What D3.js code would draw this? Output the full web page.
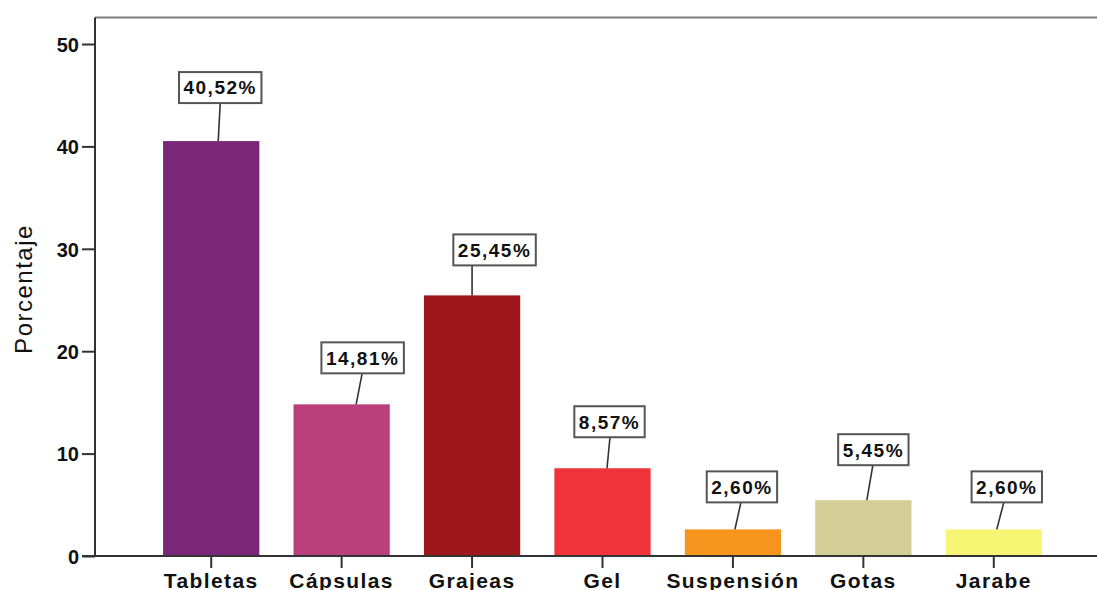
<!DOCTYPE html>
<html>
<head>
<meta charset="utf-8">
<script src="https://cdn.jsdelivr.net/npm/d3@7"></script>
<style>
  html, body { margin: 0; padding: 0; background: #fff; }
  svg { display: block; }
</style>
</head>
<body>
<svg id="chart" width="1097" height="590"></svg>
<script>
// Forma farmacéutica: porcentaje por categoría
const categories = ["Tabletas", "Cápsulas", "Grajeas", "Gel", "Suspensión", "Gotas", "Jarabe"];
const percentages = [40.52, 14.81, 25.45, 8.57, 2.60, 5.45, 2.60];
const valueLabels = ["40,52%", "14,81%", "25,45%", "8,57%", "2,60%", "5,45%", "2,60%"];
const barColors = ["#7b2779", "#ba3f7c", "#9e171b", "#ee343a", "#f7941e", "#d3cd96", "#f8f575"];
const yTicks = [0, 10, 20, 30, 40, 50];

// Callout placement: [box centre dx, leader top dx, leader bottom dx, gap above bar]
const calloutLayout = [
  [9, 9, 7, 38],
  [21, 20.5, 14.5, 31],
  [22.5, 0, 0, 30],
  [7, 7.5, 4.5, 31],
  [9, 8, 2, 27],
  [10, 9.5, 3.5, 35],
  [13, 10, 3, 27]
];

const svg = d3.select("#chart");
const plotLeft = 95, plotTop = 17.5, plotRight = 1098, plotBottom = 556;
const font = "'Liberation Sans', Arial, sans-serif";

const x = d3.scaleBand()
  .domain(categories)
  .range([146, 1059])
  .paddingInner(0.262)
  .paddingOuter(0.131);

const y = d3.scaleLinear()
  .domain([0, 50])
  .range([plotBottom, 44]);

// top edge of the plot frame
svg.append("path")
  .attr("d", `M${plotLeft},${plotTop}H${plotRight}`)
  .attr("stroke", "#7f7f7f")
  .attr("stroke-width", 2)
  .attr("fill", "none");

// bars
svg.append("g")
  .selectAll("rect")
  .data(categories)
  .join("rect")
  .attr("x", d => x(d))
  .attr("y", (d, i) => y(percentages[i]))
  .attr("width", x.bandwidth())
  .attr("height", (d, i) => y(0) - y(percentages[i]))
  .attr("fill", (d, i) => barColors[i]);

// y axis
const yAxis = d3.axisLeft(y)
  .tickValues(yTicks)
  .tickSize(13)
  .tickPadding(3)
  .tickFormat(d3.format("d"));

const gy = svg.append("g")
  .attr("transform", `translate(${plotLeft},0)`)
  .call(yAxis);
gy.select(".domain")
  .attr("d", `M0,${plotTop}V${plotBottom}`)
  .attr("stroke", "#333")
  .attr("stroke-width", 2);
gy.selectAll(".tick line").attr("stroke", "#333").attr("stroke-width", 2);
gy.selectAll(".tick text")
  .attr("font-family", font)
  .attr("font-weight", "bold")
  .attr("font-size", 20)
  .attr("fill", "#111")
  .attr("dy", "0.36em");

// x axis
const xAxis = d3.axisBottom(x)
  .tickSize(12)
  .tickPadding(5);

const gx = svg.append("g")
  .attr("transform", `translate(0,${plotBottom})`)
  .call(xAxis);
gx.select(".domain")
  .attr("d", `M${plotLeft - 13},0H${plotRight}`)
  .attr("stroke", "#333")
  .attr("stroke-width", 2);
gx.selectAll(".tick line").attr("stroke", "#333").attr("stroke-width", 2);
gx.selectAll(".tick text")
  .attr("font-family", font)
  .attr("font-weight", "bold")
  .attr("font-size", 21)
  .attr("letter-spacing", "1.4px")
  .attr("fill", "#111")
  .attr("dy", "0.72em");

// y axis title
svg.append("text")
  .attr("transform", "translate(32,289) rotate(-90)")
  .attr("text-anchor", "middle")
  .attr("font-family", font)
  .attr("font-size", 24)
  .attr("letter-spacing", "1.5px")
  .attr("fill", "#111")
  .text("Porcentaje");

// value callouts
const callouts = svg.append("g");
categories.forEach((c, i) => {
  const [boxDx, topDx, botDx, gap] = calloutLayout[i];
  const cx = x(c) + x.bandwidth() / 2;
  const barTop = y(percentages[i]);
  const boxBottom = barTop - gap;
  const boxH = 31;

  callouts.append("line")
    .attr("x1", cx + topDx).attr("y1", boxBottom)
    .attr("x2", cx + botDx).attr("y2", barTop)
    .attr("stroke", "#333")
    .attr("stroke-width", 1.6);

  const g = callouts.append("g");
  const rect = g.append("rect")
    .attr("fill", "#fff")
    .attr("stroke", "#555")
    .attr("stroke-width", 2);
  const t = g.append("text")
    .attr("x", cx + boxDx)
    .attr("y", boxBottom - boxH / 2)
    .attr("dy", "0.36em")
    .attr("text-anchor", "middle")
    .attr("font-family", font)
    .attr("font-weight", "bold")
    .attr("font-size", 19)
    .attr("letter-spacing", "1.5px")
    .attr("fill", "#111")
    .text(valueLabels[i]);
  const w = t.node().getComputedTextLength() + 9;
  rect.attr("x", cx + boxDx - w / 2)
    .attr("y", boxBottom - boxH)
    .attr("width", w)
    .attr("height", boxH);
});
</script>
</body>
</html>
